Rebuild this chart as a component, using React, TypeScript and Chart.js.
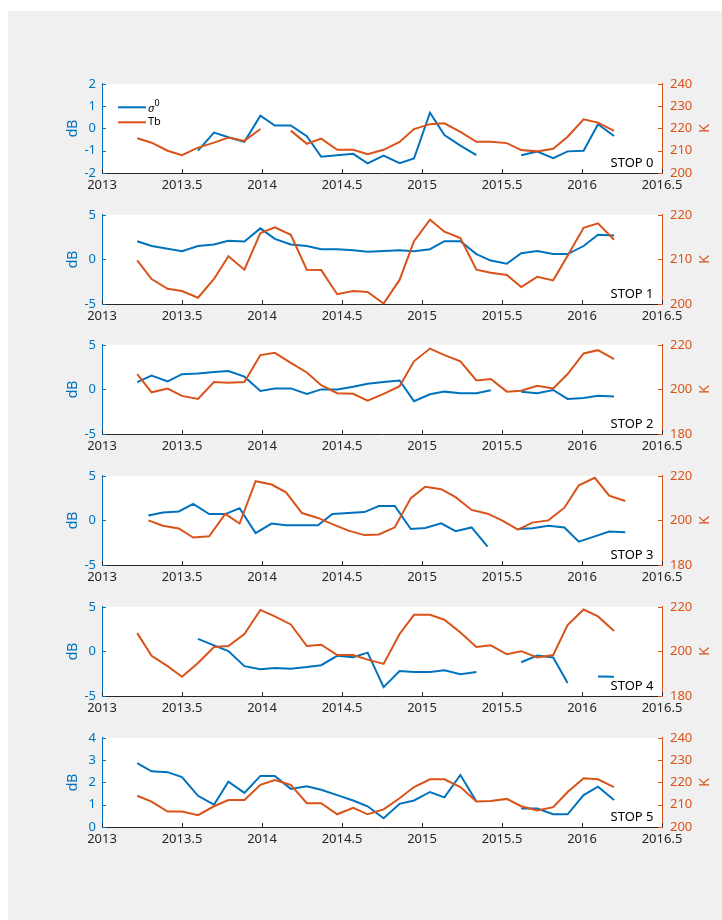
import React, { useEffect, useRef } from "react";
import { Chart, registerables } from "chart.js";
Chart.register(...registerables);

// ---------- data ----------
const datesMain = [2013.22, 2013.31, 2013.41, 2013.5, 2013.6, 2013.7, 2013.79, 2013.89, 2013.99, 2014.08, 2014.18, 2014.28, 2014.37, 2014.47, 2014.57, 2014.66, 2014.76, 2014.86, 2014.95, 2015.05, 2015.14, 2015.24, 2015.34, 2015.43, 2015.53, 2015.62, 2015.72, 2015.82, 2015.91, 2016.01, 2016.1, 2016.2];
const datesStop3 = [2013.29, 2013.38, 2013.48, 2013.57, 2013.67, 2013.77, 2013.86, 2013.96, 2014.06, 2014.15, 2014.25, 2014.35, 2014.44, 2014.54, 2014.64, 2014.73, 2014.83, 2014.93, 2015.02, 2015.12, 2015.21, 2015.31, 2015.41, 2015.5, 2015.6, 2015.69, 2015.79, 2015.89, 2015.98, 2016.08, 2016.17, 2016.27];

const sigma0 = [null, null, null, null, -1.0, -0.19, -0.4, -0.6, 0.57, 0.13, 0.13, -0.35, -1.27, -1.2, -1.14, -1.57, -1.22, -1.56, -1.35, 0.7, -0.3, -0.77, -1.2, null, null, -1.2, -1.04, -1.33, -1.03, -1.0, 0.19, -0.34];
const tb0 = [215.6, 213.6, 210.0, 208.0, 211.4, 213.6, 215.9, 214.4, 219.7, null, 219.0, 213.1, 215.4, 210.4, 210.4, 208.4, 210.4, 213.9, 219.7, 221.9, 222.3, 218.4, 214.0, 214.0, 213.4, 210.3, 209.7, 210.9, 216.3, 224.1, 222.6, 218.9];

const sigma1 = [2.04, 1.5, 1.2, 0.92, 1.5, 1.68, 2.1, 2.0, 3.48, 2.3, 1.68, 1.5, 1.14, 1.14, 1.03, 0.85, 0.95, 1.03, 0.92, 1.14, 2.04, 2.04, 0.6, -0.13, -0.49, 0.7, 0.95, 0.6, 0.6, 1.5, 2.76, 2.69];
const tb1 = [209.8, 205.6, 203.4, 202.9, 201.4, 205.6, 210.7, 207.7, 215.9, 217.2, 215.5, 207.7, 207.6, 202.2, 202.9, 202.7, 200.1, 205.4, 214.1, 218.9, 216.2, 214.8, 207.7, 207.0, 206.5, 203.8, 206.1, 205.3, 210.8, 217.1, 218.1, 214.4];

const sigma2 = [0.82, 1.54, 0.89, 1.71, 1.79, 1.96, 2.07, 1.43, -0.18, 0.11, 0.11, -0.5, 0.0, 0.0, 0.29, 0.64, 0.82, 1.0, -1.32, -0.54, -0.25, -0.43, -0.43, -0.1, null, -0.25, -0.43, -0.07, -1.07, -0.96, -0.71, -0.79];
const tb2 = [206.9, 198.7, 200.4, 197.1, 195.7, 203.3, 203.0, 203.3, 215.4, 216.4, 211.9, 207.6, 201.9, 198.3, 198.0, 195.0, 198.0, 201.4, 212.6, 218.3, 215.4, 212.6, 204.0, 204.7, 199.0, 199.4, 201.6, 200.4, 206.9, 216.1, 217.6, 213.6];

const sigma3 = [0.54, 0.89, 1.0, 1.86, 0.71, 0.71, 1.36, -1.43, -0.36, -0.54, -0.54, -0.54, 0.71, 0.82, 0.93, 1.61, 1.61, -0.96, -0.86, -0.32, -1.21, -0.79, -2.93, null, -0.96, -0.89, -0.61, -0.79, -2.39, -1.79, -1.25, -1.32];
const tb3 = [200.0, 197.6, 196.4, 192.3, 192.9, 202.9, 198.6, 217.6, 216.1, 212.6, 203.3, 201.1, 198.3, 195.4, 193.4, 193.7, 196.9, 210.0, 215.1, 214.0, 210.4, 204.7, 203.0, 200.0, 195.9, 199.0, 200.0, 205.7, 215.7, 219.1, 211.1, 208.7];

const sigma4 = [null, null, null, null, 1.4, 0.68, 0.04, -1.65, -2.0, -1.87, -1.94, -1.76, -1.55, -0.5, -0.65, -0.14, -4.0, -2.19, -2.3, -2.3, -2.12, -2.55, -2.3, null, null, -1.22, -0.47, -0.68, -3.53, null, -2.8, -2.85];
const tb4 = [208.2, 198.0, 193.4, 188.6, 194.8, 202.0, 202.4, 207.8, 218.6, 215.7, 212.1, 202.4, 203.0, 198.4, 198.4, 196.3, 194.4, 207.8, 216.4, 216.4, 214.2, 208.5, 202.0, 202.7, 198.7, 200.1, 197.3, 198.4, 211.8, 218.8, 215.7, 209.2];

const sigma5 = [2.86, 2.5, 2.46, 2.24, 1.4, 1.0, 2.03, 1.53, 2.29, 2.29, 1.71, 1.83, 1.67, 1.43, 1.19, 0.93, 0.39, 1.04, 1.19, 1.57, 1.33, 2.33, 1.14, null, null, 0.83, 0.83, 0.57, 0.57, 1.43, 1.81, 1.21];
const tb5 = [214.0, 211.4, 206.9, 206.9, 205.3, 209.3, 212.1, 212.1, 218.9, 221.1, 218.9, 210.7, 210.7, 205.7, 208.6, 205.7, 207.9, 212.9, 217.9, 221.4, 221.4, 217.9, 211.4, 211.7, 212.6, 209.3, 207.4, 208.9, 215.7, 221.9, 221.4, 217.9];

const xTicks = [2013, 2013.5, 2014, 2014.5, 2015, 2015.5, 2016, 2016.5];
const dbTicksSmall = [-2, -1, 0, 1, 2];
const dbTicksWide = [-5, 0, 5];
const dbTicksPos = [0, 1, 2, 3, 4];
const kTicks10 = [200, 210, 220, 230, 240];
const kTicks200 = [200, 210, 220];
const kTicks20 = [180, 200, 220];

const stopNames = ["STOP 0", "STOP 1", "STOP 2", "STOP 3", "STOP 4", "STOP 5"];
const legendLabels = ["\u03c3", "Tb"];

const panels = [
  { name: stopNames[0], dates: datesMain, sigma: sigma0, tb: tb0, dbT: dbTicksSmall, kT: kTicks10, legend: true },
  { name: stopNames[1], dates: datesMain, sigma: sigma1, tb: tb1, dbT: dbTicksWide, kT: kTicks200, legend: false },
  { name: stopNames[2], dates: datesMain, sigma: sigma2, tb: tb2, dbT: dbTicksWide, kT: kTicks20, legend: false },
  { name: stopNames[3], dates: datesStop3, sigma: sigma3, tb: tb3, dbT: dbTicksWide, kT: kTicks20, legend: false },
  { name: stopNames[4], dates: datesMain, sigma: sigma4, tb: tb4, dbT: dbTicksWide, kT: kTicks20, legend: false },
  { name: stopNames[5], dates: datesMain, sigma: sigma5, tb: tb5, dbT: dbTicksPos, kT: kTicks10, legend: false },
];

// ---------- styling / layout ----------
const BLUE = "#0072BD";
const ORANGE = "#D95319";
const DARK = "#262626";
const FONT = "'Noto Sans', sans-serif";
const PAGE_TOP = 11;
const FIRST_TOP = 80;
const PITCH = 130.7;
const PAD_TOP = 12;
const PLOT_H = 93;
const X_AXIS_H = 28;
const LEFT_W = 94;
const RIGHT_W = 60;
const CANVAS_W = 714;

function Panel({ p, index }: { p: any; index: number }) {
  const ref = useRef<HTMLCanvasElement | null>(null);
  const plotTop = Math.round(FIRST_TOP + index * PITCH);
  const canvasTop = plotTop - PAD_TOP - PAGE_TOP;
  const h = PAD_TOP + PLOT_H + X_AXIS_H;

  useEffect(() => {
    const canvas = ref.current!;
    const overlay = {
      id: "overlay",
      beforeDraw(chart: any) {
        const { ctx, chartArea: a } = chart;
        ctx.save();
        ctx.fillStyle = "#ffffff";
        ctx.fillRect(a.left, a.top, a.right - a.left, a.bottom - a.top);
        ctx.restore();
      },
      afterDraw(chart: any) {
        const { ctx, chartArea: a, scales } = chart;
        ctx.save();
        // inward tick marks
        ctx.lineWidth = 1;
        ctx.strokeStyle = DARK;
        xTicks.forEach((v) => {
          const x = Math.round(scales.x.getPixelForValue(v)) + 0.5;
          ctx.beginPath();
          ctx.moveTo(x, a.bottom);
          ctx.lineTo(x, a.bottom - 4);
          ctx.stroke();
        });
        ctx.strokeStyle = BLUE;
        p.dbT.forEach((v: number) => {
          const y = Math.round(scales.y.getPixelForValue(v)) + 0.5;
          ctx.beginPath();
          ctx.moveTo(a.left, y);
          ctx.lineTo(a.left + 4, y);
          ctx.stroke();
        });
        ctx.strokeStyle = ORANGE;
        p.kT.forEach((v: number) => {
          const y = Math.round(scales.y2.getPixelForValue(v)) + 0.5;
          ctx.beginPath();
          ctx.moveTo(a.right, y);
          ctx.lineTo(a.right - 4, y);
          ctx.stroke();
        });
        // axis titles
        const cy = (a.top + a.bottom) / 2;
        ctx.font = `14px ${FONT}`;
        ctx.textAlign = "center";
        ctx.textBaseline = "middle";
        ctx.fillStyle = BLUE;
        ctx.save();
        ctx.translate(65, cy);
        ctx.rotate(-Math.PI / 2);
        ctx.fillText("dB", 0, 0);
        ctx.restore();
        ctx.fillStyle = ORANGE;
        ctx.save();
        ctx.translate(697, cy);
        ctx.rotate(-Math.PI / 2);
        ctx.fillText("K", 0, 0);
        ctx.restore();
        // stop label
        ctx.font = `13px ${FONT}`;
        ctx.fillStyle = "#000000";
        ctx.textAlign = "right";
        ctx.textBaseline = "middle";
        ctx.fillText(p.name, 645.5, a.bottom - 10);
        // legend
        if (p.legend) {
          const ly1 = a.top + 23.5;
          const ly2 = a.top + 38.5;
          ctx.lineWidth = 2;
          ctx.strokeStyle = BLUE;
          ctx.beginPath();
          ctx.moveTo(110, ly1);
          ctx.lineTo(138, ly1);
          ctx.stroke();
          ctx.strokeStyle = ORANGE;
          ctx.beginPath();
          ctx.moveTo(110, ly2);
          ctx.lineTo(138, ly2);
          ctx.stroke();
          ctx.fillStyle = "#000000";
          ctx.textAlign = "left";
          ctx.font = `italic 11px ${FONT}`;
          ctx.fillText(legendLabels[0], 140, ly1 + 2);
          ctx.font = `9px ${FONT}`;
          ctx.fillText("0", 146.5, ly1 - 4);
          ctx.font = `11px ${FONT}`;
          ctx.fillText(legendLabels[1], 140, ly2);
        }
        ctx.restore();
      },
    };

    const font = { family: FONT, size: 13 };
    const chart = new Chart(canvas, {
      type: "line",
      data: {
        datasets: [
          {
            label: "Tb",
            data: p.dates.map((d: number, i: number) => ({ x: d, y: p.tb[i] })),
            yAxisID: "y2",
            borderColor: ORANGE,
            backgroundColor: ORANGE,
            borderWidth: 2,
            pointRadius: 0,
            tension: 0,
            spanGaps: false,
            fill: false,
          },
          {
            label: "sigma0",
            data: p.dates.map((d: number, i: number) => ({ x: d, y: p.sigma[i] })),
            yAxisID: "y",
            borderColor: BLUE,
            backgroundColor: BLUE,
            borderWidth: 2,
            pointRadius: 0,
            tension: 0,
            spanGaps: false,
            fill: false,
          },
        ],
      },
      options: {
        animation: false,
        responsive: false,
        maintainAspectRatio: false,
        events: [],
        layout: { padding: { top: PAD_TOP, left: 0, right: 0, bottom: 0 } },
        plugins: { legend: { display: false }, tooltip: { enabled: false } },
        scales: {
          x: {
            type: "linear",
            min: 2013,
            max: 2016.5,
            afterBuildTicks: (s: any) => {
              s.ticks = xTicks.map((v) => ({ value: v }));
            },
            afterFit: (s: any) => {
              s.height = X_AXIS_H;
            },
            grid: { display: false, drawTicks: false },
            border: { display: true, color: DARK, width: 1 },
            ticks: {
              color: DARK,
              font,
              padding: 4,
              maxRotation: 0,
              autoSkip: false,
              callback: (v: any) => String(v),
            },
          },
          y: {
            type: "linear",
            position: "left",
            min: p.dbT[0],
            max: p.dbT[p.dbT.length - 1],
            afterBuildTicks: (s: any) => {
              s.ticks = p.dbT.map((v: number) => ({ value: v }));
            },
            afterFit: (s: any) => {
              s.width = LEFT_W;
            },
            grid: { display: false, drawTicks: false },
            border: { display: true, color: BLUE, width: 1 },
            ticks: { color: BLUE, font, padding: 6, callback: (v: any) => String(v) },
          },
          y2: {
            type: "linear",
            position: "right",
            min: p.kT[0],
            max: p.kT[p.kT.length - 1],
            afterBuildTicks: (s: any) => {
              s.ticks = p.kT.map((v: number) => ({ value: v }));
            },
            afterFit: (s: any) => {
              s.width = RIGHT_W;
            },
            grid: { display: false, drawTicks: false },
            border: { display: true, color: ORANGE, width: 1 },
            ticks: { color: ORANGE, font, padding: 8, callback: (v: any) => String(v) },
          },
        },
      } as any,
      plugins: [overlay],
    });
    return () => chart.destroy();
  }, []);

  return (
    <canvas
      ref={ref}
      width={CANVAS_W}
      height={h}
      style={{ position: "absolute", left: 0, top: canvasTop, width: CANVAS_W, height: h }}
    />
  );
}

export default function App() {
  useEffect(() => {
    document.documentElement.style.overflow = "hidden";
    document.body.style.overflow = "hidden";
  }, []);
  return (
    <div
      style={{
        position: "absolute",
        left: 8,
        top: PAGE_TOP,
        width: CANVAS_W,
        height: 909,
        background: "#f0f0f0",
      }}
    >
      {panels.map((p, i) => (
        <Panel key={i} p={p} index={i} />
      ))}
    </div>
  );
}
